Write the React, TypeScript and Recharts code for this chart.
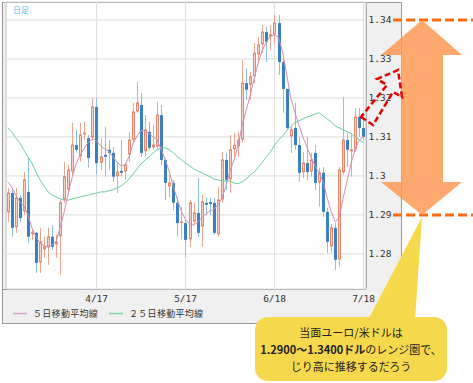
import React from 'react';
import { ComposedChart, Bar, Line, XAxis, YAxis, CartesianGrid } from 'recharts';

const opens = [1.2905,1.2956,1.2867,1.2944,1.2908,1.2959,1.2849,1.2854,1.2777,1.2810,1.2815,1.2844,1.2823,1.2844,1.2938,1.2964,1.3010,1.3079,1.3049,1.3105,1.3097,1.3097,1.3177,1.3033,1.3054,1.3067,1.3059,1.2998,1.3013,1.3010,1.3054,1.3092,1.3164,1.3182,1.3062,1.3113,1.3072,1.3074,1.3156,1.3041,1.2972,1.2982,1.2931,1.2879,1.2879,1.2836,1.2882,1.2905,1.2869,1.2931,1.2933,1.2931,1.2849,1.2938,1.3041,1.2990,1.3067,1.3074,1.3092,1.3238,1.3233,1.3254,1.3310,1.3336,1.3369,1.3356,1.3362,1.3392,1.3292,1.3223,1.3100,1.3123,1.3079,1.3008,1.3033,1.3010,1.3059,1.2982,1.3008,1.2908,1.2818,1.2867,1.2785,1.3008,1.3092,1.3062,1.3067,1.3151,1.3123];
const highs = [1.2969,1.2964,1.2969,1.2951,1.3010,1.3046,1.2862,1.2856,1.2867,1.2844,1.2867,1.2874,1.2849,1.2938,1.3036,1.3028,1.3136,1.3118,1.3136,1.3139,1.3105,1.3200,1.3200,1.3097,1.3126,1.3092,1.3074,1.3033,1.3092,1.3033,1.3113,1.3187,1.3241,1.3213,1.3156,1.3139,1.3131,1.3190,1.3182,1.3046,1.3003,1.2990,1.2946,1.2921,1.2887,1.2938,1.2931,1.2995,1.2951,1.2944,1.2944,1.2944,1.2972,1.3062,1.3059,1.3105,1.3110,1.3113,1.3297,1.3277,1.3267,1.3341,1.3356,1.3387,1.3382,1.3387,1.3413,1.3413,1.3297,1.3223,1.3126,1.3187,1.3100,1.3062,1.3100,1.3059,1.3079,1.3021,1.3023,1.2918,1.2877,1.2879,1.3023,1.3203,1.3110,1.3110,1.3174,1.3174,1.3149];
const lows = [1.2882,1.2844,1.2854,1.2882,1.2900,1.2828,1.2836,1.2751,1.2751,1.2790,1.2772,1.2810,1.2790,1.2746,1.2931,1.2956,1.3003,1.3059,1.3036,1.3092,1.3021,1.3092,1.3003,1.3015,1.2998,1.3015,1.2985,1.2956,1.2998,1.2990,1.3036,1.3087,1.3162,1.3049,1.3049,1.3067,1.3067,1.3067,1.3028,1.2938,1.2946,1.2913,1.2844,1.2836,1.2792,1.2818,1.2874,1.2844,1.2818,1.2900,1.2900,1.2849,1.2844,1.2931,1.2964,1.2956,1.3049,1.3049,1.3085,1.3195,1.3195,1.3238,1.3290,1.3315,1.3292,1.3323,1.3341,1.3259,1.3162,1.3118,1.3059,1.3067,1.2985,1.2995,1.2990,1.2998,1.2964,1.2921,1.2895,1.2803,1.2803,1.2759,1.2767,1.3003,1.3023,1.2998,1.3062,1.3100,1.3092];
const closes = [1.2956,1.2867,1.2944,1.2892,1.2990,1.2844,1.2854,1.2777,1.2831,1.2818,1.2844,1.2818,1.2831,1.2931,1.2998,1.3015,1.3079,1.3067,1.3105,1.3110,1.3046,1.3177,1.3033,1.3049,1.3049,1.3059,1.2998,1.3010,1.3008,1.3028,1.3092,1.3164,1.3187,1.3059,1.3118,1.3072,1.3079,1.3156,1.3041,1.2982,1.2982,1.2931,1.2879,1.2882,1.2836,1.2931,1.2905,1.2854,1.2933,1.2926,1.2928,1.2854,1.2938,1.3041,1.2990,1.3067,1.3079,1.3092,1.3238,1.3221,1.3254,1.3315,1.3336,1.3369,1.3344,1.3362,1.3392,1.3292,1.3223,1.3123,1.3118,1.3079,1.3008,1.3033,1.3010,1.3041,1.2982,1.3008,1.2908,1.2831,1.2867,1.2785,1.3015,1.3092,1.3067,1.3067,1.3151,1.3123,1.3100];
const ma5 = [1.2985,1.2972,1.2951,1.2933,1.2923,1.2900,1.2867,1.2844,1.2828,1.2821,1.2818,1.2823,1.2831,1.2869,1.2908,1.2956,1.2998,1.3033,1.3054,1.3072,1.3087,1.3095,1.3090,1.3077,1.3069,1.3064,1.3049,1.3036,1.3026,1.3028,1.3049,1.3082,1.3103,1.3116,1.3116,1.3108,1.3100,1.3092,1.3067,1.3041,1.3010,1.2972,1.2938,1.2908,1.2887,1.2877,1.2874,1.2882,1.2892,1.2903,1.2910,1.2915,1.2926,1.2944,1.2974,1.3015,1.3041,1.3079,1.3131,1.3169,1.3208,1.3251,1.3292,1.3323,1.3344,1.3359,1.3362,1.3354,1.3318,1.3259,1.3200,1.3164,1.3131,1.3100,1.3074,1.3049,1.3026,1.3008,1.2985,1.2944,1.2908,1.2882,1.2895,1.2946,1.2990,1.3036,1.3072,1.3092,1.3103];
const ma25 = [1.3123,1.3113,1.3097,1.3085,1.3067,1.3049,1.3033,1.3010,1.2990,1.2974,1.2959,1.2951,1.2946,1.2941,1.2938,1.2938,1.2941,1.2944,1.2946,1.2949,1.2951,1.2954,1.2956,1.2959,1.2959,1.2962,1.2964,1.2969,1.2974,1.2982,1.2992,1.3005,1.3018,1.3031,1.3041,1.3049,1.3059,1.3067,1.3072,1.3072,1.3067,1.3059,1.3049,1.3041,1.3033,1.3026,1.3018,1.3013,1.3008,1.3003,1.2998,1.2992,1.2990,1.2987,1.2987,1.2987,1.2982,1.2980,1.2985,1.2992,1.3003,1.3010,1.3023,1.3036,1.3049,1.3062,1.3079,1.3092,1.3103,1.3116,1.3126,1.3136,1.3141,1.3146,1.3151,1.3154,1.3159,1.3162,1.3154,1.3146,1.3139,1.3128,1.3123,1.3118,1.3113,1.3108,1.3100,1.3092,1.3085];

const xTickIndex = [22, 44, 66, 88];
const xTickLabels = ['4/17', '5/17', '6/18', '7/18'];
const yTicks = [1.28, 1.29, 1.3, 1.31, 1.32, 1.33, 1.34];
const yTickLabels = ['1.28', '1.29', '1.3', '1.31', '1.32', '1.33', '1.34'];
const yDomain = [1.2710, 1.3446];

const legendItems = [
  { label: '５日移動平均線', color: '#dba6c6' },
  { label: '２５日移動平均線', color: '#7fd8ad' },
];

const data = opens.map((o, i) => ({
  i,
  o,
  h: highs[i],
  l: lows[i],
  c: closes[i],
  range: [lows[i], highs[i]],
  ma5: ma5[i],
  ma25: ma25[i],
}));

const Candle = (props: any) => {
  const { x, y, width, height, payload } = props;
  if (!payload || x == null) return null;
  const { o, h, l, c } = payload;
  const top = Math.min(y, y + height);
  const hh = Math.abs(height);
  const k = h - l > 0 ? hh / (h - l) : 0;
  const rc = Math.round(x + width / 2);
  const up = c >= o;
  const bTop = top + (h - Math.max(o, c)) * k;
  const bH = Math.max(Math.abs(o - c) * k, 1);
  if (up) {
    return (
      <g>
        <line x1={rc + 0.5} x2={rc + 0.5} y1={top} y2={top + hh} stroke="#eda593" strokeWidth={1} />
        <rect x={rc - 0.5} y={bTop} width={2} height={Math.max(bH - 1, 0.5)} fill="#f8d3c8" stroke="#e8866c" strokeWidth={1} />
      </g>
    );
  }
  return (
    <g>
      <line x1={rc + 0.5} x2={rc + 0.5} y1={top} y2={top + hh} stroke="#90bde2" strokeWidth={1} />
      <rect x={rc - 1} y={bTop} width={3} height={bH} fill="#3b80be" />
    </g>
  );
};

export default function App() {
  return (
    <div style={{ position: 'absolute', left: 0, top: 0, width: 473, height: 383, background: '#fff' }}>
      <svg width={473} height={383} style={{ position: 'absolute', left: 0, top: 0 }}>
        <rect x={2.5} y={2.5} width={399} height={321} fill="#f0f0f0" stroke="#999" strokeWidth={1} />
        <rect x={6} y={3} width={360} height={286} fill="#fff" />
        <line x1={6.5} x2={6.5} y1={3} y2={289} stroke="#ddd" />
        <line x1={366.5} x2={366.5} y1={3} y2={289} stroke="#aaa" />
        <line x1={3} x2={366} y1={289.5} y2={289.5} stroke="#999" />
      </svg>
      <div style={{ position: 'absolute', left: 0, top: 0 }}>
        <ComposedChart width={473} height={383} data={data} margin={{ top: 2, right: 72.4, bottom: 74, left: 5.6 }}>
          <CartesianGrid stroke="#dcdcdc" ticks={undefined} />
          <XAxis
            dataKey="i"
            type="category"
            ticks={xTickIndex}
            tickFormatter={(v: any) => xTickLabels[xTickIndex.indexOf(Number(v))] ?? ''}
            axisLine={false}
            tickLine={false}
            tickSize={0}
            tickMargin={6}
            height={20}
            tick={{ fontSize: 9.5, fill: '#333', fontFamily: 'DejaVu Sans Mono' }}
          />
          <YAxis
            orientation="right"
            domain={yDomain}
            ticks={yTicks}
            allowDataOverflow
            type="number"
            tickFormatter={(v: any) => yTickLabels[yTicks.indexOf(Number(v))] ?? ''}
            axisLine={false}
            tickLine={false}
            tickSize={0}
            tickMargin={3}
            width={35}
            tick={{ fontSize: 9.5, fill: '#333', fontFamily: 'DejaVu Sans Mono', textAnchor: 'start' }}
          />
          <Bar dataKey="range" shape={(p: any) => <Candle {...p} />} isAnimationActive={false} />
          <Line dataKey="ma25" stroke="#66cf9c" strokeWidth={1} dot={false} isAnimationActive={false} />
          <Line dataKey="ma5" stroke="#d08db6" strokeWidth={1} dot={false} isAnimationActive={false} />
        </ComposedChart>
      </div>
      <svg width={473} height={383} style={{ position: 'absolute', left: 0, top: 0, pointerEvents: 'none' }}>
        <text x={13} y={13} fontSize={8} fill="#4fc3ee" fontFamily="Noto Sans CJK JP">日足</text>
        {legendItems.map((it, k) => (
          <g key={k}>
            <line x1={13 + k * 96} x2={27 + k * 96} y1={313.5} y2={313.5} stroke={it.color} strokeWidth={1.5} />
            <text x={33 + k * 96} y={317} fontSize={9} fill="#333" fontFamily="Noto Sans CJK JP" letterSpacing={0.3}>{it.label}</text>
          </g>
        ))}
        <line x1={393} x2={473} y1={20} y2={20} stroke="#ff6a10" strokeWidth={3} strokeDasharray="9 4" />
        <line x1={393} x2={473} y1={215} y2={215} stroke="#ff6a10" strokeWidth={3} strokeDasharray="9 4" />
        <polygon
          points="422,20 462,55 443,55 443,182 462,182 422,215 381,182 401,182 401,55 381,55"
          fill="#ff9a55"
          fillOpacity={0.85}
        />
        <polygon
          points="361,117 373,125 393,92 402,97 398,70 377,79 387,85"
          fill="none"
          stroke="#e30000"
          strokeWidth={2.5}
          strokeDasharray="6 3"
          strokeLinejoin="miter"
        />
        <polygon points="422,217 368,320 415,320" fill="#f6d84c" />
        <rect x={255} y={317} width={192} height={64} rx={13} ry={13} fill="#f6d84c" />
        <text x={351} y={337} fontSize={11} fill="#222" textAnchor="middle" fontFamily="Noto Sans CJK JP">当面ユーロ/米ドルは</text>
        <text x={351} y={354} fontSize={11} fill="#222" textAnchor="middle" fontFamily="Noto Sans CJK JP">
          <tspan fontWeight="bold">1.2900～1.3400ドル</tspan>のレンジ圏で、
        </text>
        <text x={351} y={371} fontSize={11} fill="#222" textAnchor="middle" fontFamily="Noto Sans CJK JP">じり高に推移するだろう</text>
      </svg>
    </div>
  );
}
